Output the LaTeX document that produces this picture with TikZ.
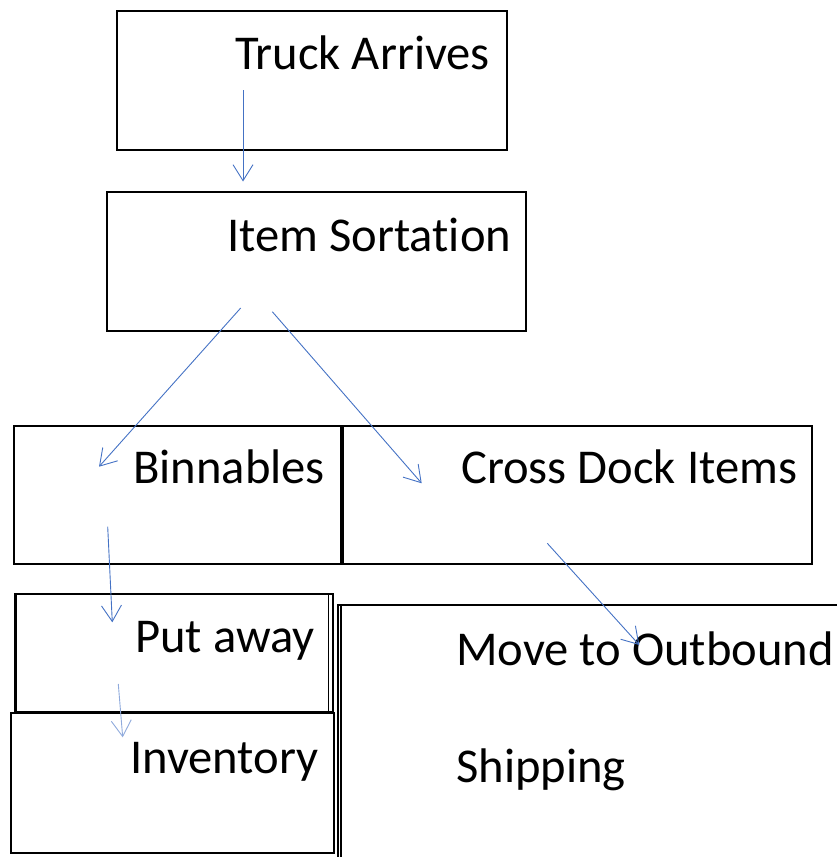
\documentclass[tikz,border=0pt]{standalone}
\usepackage{fontspec}
\setmainfont[Ligatures={NoCommon}]{Carlito}
\usetikzlibrary{arrows.meta}
\definecolor{flowblue}{HTML}{4472C4}
\definecolor{lightflow}{HTML}{8FAADC}
\begin{document}
\begin{tikzpicture}[x=1pt,y=-1pt,
  box/.style={draw=black, line width=2.4pt, inner sep=0pt, outer sep=0pt, anchor=north west},
  thinbox/.style={draw=black, line width=1.2pt, inner sep=0pt, outer sep=0pt, anchor=north west},
  lbl/.style={anchor=base west, inner sep=0pt, font=\fontsize{48.6}{56}\selectfont},
  flow/.style={draw=flowblue, line width=0.9pt, -{Straight Barb[length=16pt,width=20pt,line width=0.9pt]}},
  lightflowstyle/.style={flow, draw=lightflow}]
\useasboundingbox (0,0) rectangle (836,857);
% boxes
\node[box, minimum width=390pt, minimum height=139pt] (truck) at (117,11) {};
\node[box, minimum width=419pt, minimum height=139pt] (sort) at (107,192) {};
\node[box, minimum width=327pt, minimum height=138pt] (bin) at (14,426) {};
\node[box, minimum width=469pt, minimum height=138pt] (cross) at (343,426) {};
\node[box, minimum width=318pt, minimum height=118pt] (put) at (15,594) {};
\node[thinbox, minimum width=312pt, minimum height=118pt] (putin) at (16.5,594) {};
\node[box, minimum width=323pt, minimum height=140pt] (inv) at (11,713) {};
\node[box, minimum width=520pt, minimum height=280pt] (ship) at (338,605) {};
\node[thinbox, minimum width=520pt, minimum height=280pt] (shipin) at (341,605) {};
% labels
\node[lbl] (truckT) at (235,69) {Truck Arrives};
\node[lbl] (sortT) at (227,251) {Item Sortation};
\node[lbl] (binT) at (133,483) {Binnables};
\node[lbl] (crossT) at (461,483) {Cross Dock Items};
\node[lbl] (putT) at (135,652) {Put away};
\node[lbl] (invT) at (130,773) {Inventory};
\node[lbl] (moveT) at (456,665) {Move to Outbound};
\node[lbl] (shipT) at (456,782) {Shipping};
% arrow end points
\coordinate (a1s) at (243,90);   \coordinate (a1e) at (243,181.5);
\coordinate (a2s) at (240.7,308); \coordinate (a2e) at (99,466.7);
\coordinate (a3s) at (272.3,311.7); \coordinate (a3e) at (421.7,483.3);
\coordinate (a4s) at (107.7,526.7); \coordinate (a4e) at (112.3,622.3);
\coordinate (a5s) at (118.3,684); \coordinate (a5e) at (122.7,737.3);
\coordinate (a6s) at (547.3,543.3); \coordinate (a6e) at (639.3,645);
\draw[flow] (a1s) -- (a1e);
\draw[flow] (a2s) -- (a2e);
\draw[flow] (a3s) -- (a3e);
\draw[flow] (a4s) -- (a4e);
\draw[lightflowstyle] (a5s) -- (a5e);
\draw[flow] (a6s) -- (a6e);
\end{tikzpicture}
\end{document}
